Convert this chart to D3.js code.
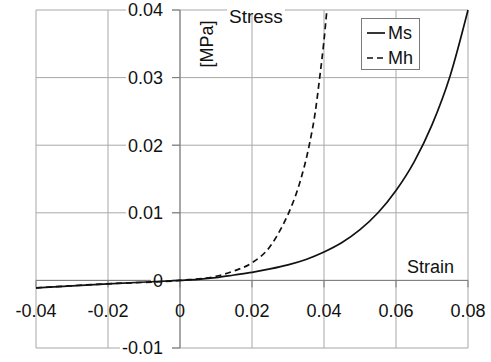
<!DOCTYPE html>
<html><head><meta charset="utf-8">
<script src="https://cdn.jsdelivr.net/npm/d3@7"></script>
<style>body{margin:0;background:#fff}svg{display:block}text{font-family:"Liberation Sans",Arial,sans-serif;fill:#111}</style>
</head><body>
<script>
const xTicks = [-0.04, -0.02, 0, 0.02, 0.04, 0.06, 0.08];
const xTickLabels = ["-0.04", "-0.02", "0", "0.02", "0.04", "0.06", "0.08"];
const yTicks = [-0.01, 0, 0.01, 0.02, 0.03, 0.04];
const yTickLabels = ["-0.01", "0", "0.01", "0.02", "0.03", "0.04"];
const msStrain = [-0.04, -0.02, 0, 0.005, 0.01, 0.015, 0.02, 0.025, 0.03, 0.035, 0.04, 0.045, 0.05, 0.055, 0.06, 0.065, 0.07, 0.075, 0.08];
const msStress = [-0.0011, -0.0005, 0, 0.00015, 0.0004, 0.0008, 0.0012, 0.0017, 0.0023, 0.0031, 0.0042, 0.0056, 0.0075, 0.0100, 0.0133, 0.0175, 0.0230, 0.0302, 0.0400];
const mhStrain = [-0.04, -0.02, 0, 0.01, 0.015, 0.02, 0.025, 0.0279, 0.0302, 0.0333, 0.0359, 0.0376, 0.0388, 0.0399, 0.0408];
const mhStress = [-0.0011, -0.0005, 0, 0.0006, 0.0014, 0.0026, 0.0050, 0.0075, 0.0100, 0.0145, 0.0200, 0.0250, 0.0300, 0.0350, 0.0400];

const W = 491, H = 362;
const svg = d3.select("body").append("svg").attr("width", W).attr("height", H);
const x = d3.scaleLinear().domain([-0.04, 0.08]).range([36, 468]);
const y = d3.scaleLinear().domain([-0.01, 0.04]).range([348, 10]);
const gridC = "#a8a8a8", axisC = "#7a7a7a";

svg.append("g").selectAll("line").data(xTicks).join("line")
  .attr("x1", d => x(d)).attr("x2", d => x(d)).attr("y1", y(0.04)).attr("y2", y(-0.01))
  .attr("stroke", gridC).attr("stroke-width", 1);
svg.append("g").selectAll("line").data(yTicks).join("line")
  .attr("x1", x(-0.04)).attr("x2", x(0.08)).attr("y1", d => y(d)).attr("y2", d => y(d))
  .attr("stroke", gridC).attr("stroke-width", 1);

svg.append("line").attr("x1", x(0)).attr("x2", x(0)).attr("y1", y(0.04)).attr("y2", y(-0.01)).attr("stroke", axisC);
svg.append("line").attr("x1", x(-0.04)).attr("x2", x(0.08)).attr("y1", y(0)).attr("y2", y(0)).attr("stroke", axisC);

const fs = 18;
const yl = svg.append("g");
yTicks.forEach((d, i) => {
  const g = yl.append("g");
  const r = g.append("rect").attr("fill", "#fff");
  const t = g.append("text").attr("x", 163).attr("y", y(d)).attr("dy", "0.35em")
    .attr("text-anchor", "end").attr("font-size", fs).text(yTickLabels[i]);
  const b = t.node().getBBox();
  r.attr("x", b.x - 2).attr("y", y(d) - 6).attr("width", 172 - (b.x - 2)).attr("height", 12);
  g.append("line").attr("x1", 172).attr("x2", x(0)).attr("y1", y(d)).attr("y2", y(d)).attr("stroke", axisC);
});

svg.append("g").selectAll("text").data(xTicks).join("text")
  .attr("x", d => x(d)).attr("y", 311).attr("dy", "0.35em").attr("text-anchor", "middle")
  .attr("font-size", fs).text((d, i) => xTickLabels[i]);
svg.append("g").selectAll("line").data(xTicks).join("line")
  .attr("x1", d => x(d)).attr("x2", d => x(d)).attr("y1", y(0)).attr("y2", y(0) + 7).attr("stroke", axisC);

const st = svg.append("g");
const stR = st.append("rect").attr("fill", "#fff");
const stT = st.append("text").attr("x", 229).attr("y", 16).attr("dy", "0.35em").attr("font-size", 19).text("Stress");
const sb = stT.node().getBBox();
stR.attr("x", sb.x - 2).attr("y", 10 - 3).attr("width", sb.width + 4).attr("height", 6);
svg.append("text").attr("transform", "translate(207,44) rotate(-90)").attr("text-anchor", "middle")
  .attr("dy", "0.35em").attr("font-size", fs).text("[MPa]");
svg.append("text").attr("x", 407).attr("y", 267).attr("dy", "0.35em").attr("font-size", fs).text("Strain");

const line = d3.line().x(d => x(d[0])).y(d => y(d[1])).curve(d3.curveMonotoneX);
svg.append("path").datum(msStrain.map((v, i) => [v, msStress[i]])).attr("d", line)
  .attr("fill", "none").attr("stroke", "#111").attr("stroke-width", 1.7);
svg.append("path").datum(mhStrain.map((v, i) => [v, mhStress[i]])).attr("d", line)
  .attr("fill", "none").attr("stroke", "#111").attr("stroke-width", 1.7).attr("stroke-dasharray", "6,4");

const lg = svg.append("g");
lg.append("rect").attr("x", 361.5).attr("y", 18.5).attr("width", 58).attr("height", 51)
  .attr("fill", "#fff").attr("stroke", axisC);
lg.append("line").attr("x1", 367).attr("x2", 385).attr("y1", 33).attr("y2", 33).attr("stroke", "#111").attr("stroke-width", 1.7);
lg.append("line").attr("x1", 367).attr("x2", 385).attr("y1", 58).attr("y2", 58).attr("stroke", "#111").attr("stroke-width", 1.7).attr("stroke-dasharray", "6,4");
lg.append("text").attr("x", 388).attr("y", 33).attr("dy", "0.35em").attr("font-size", fs).text("Ms");
lg.append("text").attr("x", 388).attr("y", 58).attr("dy", "0.35em").attr("font-size", fs).text("Mh");
</script>
</body></html>
